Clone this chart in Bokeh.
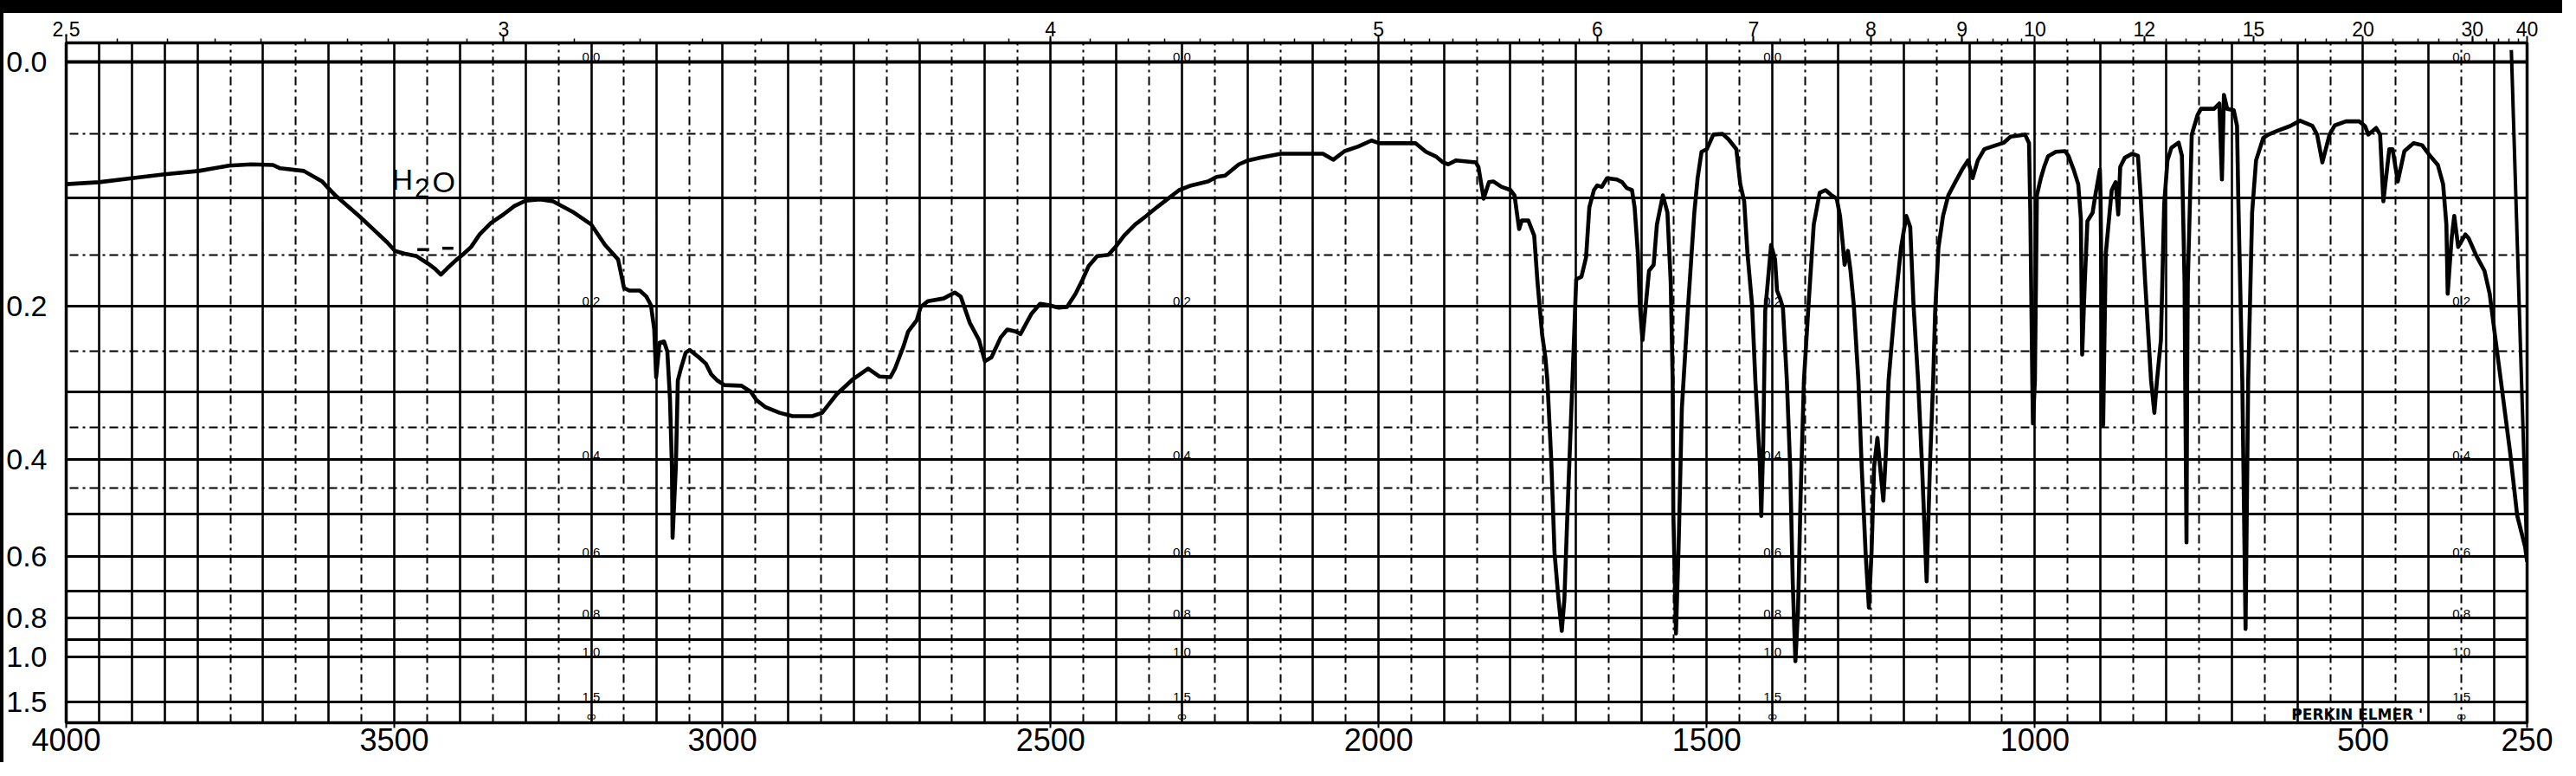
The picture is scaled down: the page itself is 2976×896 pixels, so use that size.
import numpy as np
from bokeh.plotting import figure
from bokeh.models import (Range1d, LinearAxis, FixedTicker, Grid, CustomJSTickFormatter,
                          ColumnDataSource, NumeralTickFormatter, Div)
from bokeh.layouts import column, row
from bokeh.core.properties import value
from bokeh.embed import file_html
from bokeh.resources import INLINE

# ---------------- data ----------------
# wavenumber (cm-1) and transmittance (fraction, linear chart scale)
wavenumber = [
    4000, 3950, 3900, 3850, 3798, 3752, 3718, 3685, 3674, 3638,
    3610, 3590, 3554, 3528, 3511, 3499, 3485, 3466, 3449, 3438,
    3429, 3419, 3406, 3396, 3383, 3370, 3353, 3334, 3317, 3300,
    3278, 3258, 3228, 3200, 3179, 3159, 3150, 3142, 3126, 3116,
    3109, 3104, 3101, 3096, 3089, 3084, 3080, 3077, 3076, 3071,
    3068, 3063, 3056, 3050, 3036, 3025, 3017, 3008, 2997, 2971,
    2957, 2948, 2935, 2913, 2893, 2863, 2848, 2826, 2802, 2778,
    2761, 2744, 2737, 2724, 2717, 2704, 2698, 2687, 2663, 2646,
    2637, 2623, 2609, 2600, 2590, 2576, 2566, 2553, 2546, 2529,
    2516, 2503, 2488, 2475, 2462, 2451, 2442, 2429, 2412, 2401,
    2388, 2371, 2354, 2338, 2321, 2304, 2286, 2260, 2247, 2234,
    2213, 2199, 2180, 2149, 2085, 2069, 2052, 2031, 2011, 1999,
    1944, 1928, 1913, 1902, 1894, 1882, 1852, 1848, 1840, 1832,
    1825, 1813, 1799, 1793, 1786, 1782, 1772, 1763, 1758, 1751,
    1746, 1743, 1737, 1732, 1726, 1721, 1717, 1713, 1708, 1699,
    1691, 1684, 1679, 1672, 1667, 1660, 1652, 1637, 1629, 1622,
    1614, 1610, 1605, 1602, 1598, 1593, 1588, 1581, 1576, 1567,
    1560, 1555, 1552, 1551, 1547, 1543, 1538, 1529, 1519, 1514,
    1508, 1500, 1490, 1476, 1467, 1455, 1449, 1443, 1438, 1431,
    1426, 1419, 1417, 1414, 1411, 1402, 1396, 1393, 1388, 1384,
    1378, 1373, 1369, 1365, 1361, 1357, 1352, 1345, 1337, 1328,
    1319, 1311, 1302, 1297, 1293, 1290, 1285, 1281, 1276, 1269,
    1264, 1258, 1253, 1249, 1245, 1240, 1236, 1231, 1227, 1223,
    1214, 1204, 1196, 1190, 1185, 1178, 1172, 1165, 1160, 1155,
    1152, 1147, 1140, 1132, 1123, 1111, 1102, 1095, 1087, 1077,
    1065, 1047, 1037, 1015, 1009, 1007, 1004, 1003, 1000, 997,
    991, 986, 980, 968, 954, 949, 941, 934, 930, 928,
    924, 920, 912, 908, 901, 900, 897, 896, 895, 892,
    883, 877, 873, 870, 863, 852, 843, 839, 832, 823,
    818, 814, 808, 803, 798, 792, 781, 776, 772, 771,
    769, 768, 767, 761, 752, 747, 727, 719, 715, 712,
    707, 697, 692, 690, 684, 679, 675, 669, 663, 652,
    644, 630, 611, 596, 577, 570, 562, 551, 543, 526,
    506, 497, 492, 480, 474, 469, 460, 455, 447, 437,
    423, 410, 398, 386, 378, 373, 371, 365, 361, 355,
    344, 339, 327, 315, 307, 298, 290, 276, 265, 253,
    250,
]
transmittance = [
    .815, .818, .824, .830, .835, .843, .845, .844, .839, .835,
    .819, .798, .767, .743, .727, .714, .710, .706, .695, .687,
    .678, .688, .700, .708, .720, .739, .756, .769, .782, .790,
    .792, .789, .773, .754, .723, .701, .658, .654, .654, .645,
    .632, .596, .523, .575, .577, .562, .491, .387, .280, .387,
    .518, .537, .560, .564, .553, .543, .527, .518, .511, .510,
    .501, .488, .478, .469, .464, .464, .469, .497, .519, .536,
    .524, .523, .536, .570, .592, .609, .629, .638, .642, .651,
    .645, .605, .579, .547, .553, .583, .595, .592, .588, .619,
    .634, .632, .628, .629, .649, .671, .691, .706, .708, .720,
    .737, .754, .767, .780, .793, .806, .813, .819, .826, .828,
    .845, .851, .855, .861, .861, .852, .865, .872, .881, .877,
    .877, .864, .857, .848, .845, .851, .848, .841, .793, .818,
    .819, .811, .806, .798, .747, .760, .760, .737, .667, .588,
    .553, .519, .397, .257, .187, .139, .187, .300, .431, .671,
    .675, .704, .780, .806, .813, .811, .824, .822, .818, .809,
    .806, .780, .710, .632, .579, .632, .684, .693, .754, .798,
    .772, .667, .518, .317, .135, .265, .476, .623, .772, .824,
    .864, .868, .890, .891, .883, .868, .815, .789, .710, .632,
    .518, .388, .313, .422, .623, .723, .701, .654, .641, .628,
    .518, .388, .212, .093, .169, .345, .518, .632, .754, .802,
    .806, .799, .793, .767, .727, .693, .714, .684, .632, .518,
    .388, .257, .174, .257, .388, .431, .388, .336, .410, .518,
    .623, .719, .767, .750, .632, .518, .388, .214, .388, .519,
    .623, .719, .767, .798, .815, .837, .851, .824, .851, .868,
    .872, .878, .887, .890, .877, .772, .518, .453, .518, .798,
    .824, .841, .857, .864, .865, .858, .837, .815, .763, .557,
    .667, .759, .772, .798, .837, .798, .518, .450, .518, .710,
    .806, .818, .769, .841, .855, .861, .858, .798, .667, .518,
    .469, .518, .579, .785, .851, .870, .878, .858, .667, .518,
    .273, .518, .667, .890, .920, .929, .929, .937, .822, .950,
    .929, .927, .903, .789, .518, .142, .518, .772, .851, .885,
    .890, .896, .903, .911, .903, .890, .848, .890, .904, .910,
    .910, .903, .890, .900, .890, .789, .868, .868, .819, .865,
    .877, .874, .858, .844, .815, .754, .649, .733, .767, .720,
    .739, .733, .706, .684, .649, .579, .518, .410, .313, .266,
    .244,
]
# pen return stroke at the right end of the chart
return_wavenumber = [250, 274]
return_transmittance = [0.244, 1.018]

bottom_ticks = [4000, 3500, 3000, 2500, 2000, 1500, 1000, 500, 250]
micron_labels = [2.5, 3, 4, 5, 6, 7, 8, 9, 10, 12, 15, 20, 30, 40]
absorbance_labels = [0.0, 0.2, 0.4, 0.6, 0.8, 1.0, 1.5]
absorbance_solid = [0.1, 0.2, 0.3, 0.4, 0.5, 0.6, 0.7, 0.8, 0.9, 1.0, 1.5]
absorbance_dashed = [0.05, 0.15, 0.25, 0.35, 0.45]
scale_columns = [3200, 2300, 1400, 350]

h2o_parts = ["H", "2", "O"]
h2o_x = [3504, 3469, 3442]
h2o_y = [0.822, 0.809, 0.819]
h2o_size = ["34px", "31px", "34px"]
h2o_mark_x = [[3465, 3447], [3427, 3410]]
h2o_mark_y = [[0.716, 0.716], [0.718, 0.718]]

brand_text = "PERKIN ELMER '"
brand_x = 609
brand_y = 0.0131

# ---------------- figure ----------------
BAND, STRIP = 15, 4
W, H = 2960 - STRIP, 880 - BAND
p = figure(width=W, height=H, output_backend="svg", toolbar_location=None,
           x_range=Range1d(4000, 250), y_range=Range1d(0, 1.0288),
           min_border_left=70, min_border_right=41, min_border_top=34, min_border_bottom=46)
p.background_fill_color = "white"
p.border_fill_color = "white"
p.outline_line_color = "black"
p.outline_line_width = 3.5
p.grid.visible = False

FONT = "Liberation Sans"

# bottom axis (wavenumber)
bx = p.below[0]
bx.ticker = FixedTicker(ticks=bottom_ticks)
bx.formatter = NumeralTickFormatter(format="0")
bx.axis_line_color = None
bx.major_tick_out = 6
bx.major_tick_in = 0
bx.minor_tick_out = 0
bx.minor_tick_in = 0
bx.major_tick_line_width = 2
bx.major_label_standoff = 0
bx.major_label_text_font = FONT
bx.major_label_text_font_size = "36px"
bx.major_label_text_color = "black"

# left axis (absorbance labels on a linear transmittance scale)
ly = p.left[0]
ly.ticker = FixedTicker(ticks=[10 ** (-a) for a in absorbance_labels])
ly.formatter = CustomJSTickFormatter(code="return Math.abs(Math.log10(tick)).toFixed(1);")
ly.axis_line_color = None
ly.major_tick_out = 0
ly.major_tick_in = 0
ly.minor_tick_out = 0
ly.minor_tick_in = 0
ly.major_label_standoff = 22
ly.major_label_text_font = FONT
ly.major_label_text_font_size = "34px"
ly.major_label_text_color = "black"

# top axis (wavelength in microns)
minor_microns = ([round(2.5 + 0.05 * i, 2) for i in range(1, 10)]
                 + [round(3 + 0.1 * i, 1) for i in range(1, 30)]
                 + [round(6 + 0.2 * i, 1) for i in range(1, 20)]
                 + [10 + 0.5 * i for i in range(1, 10)]
                 + [15 + i for i in range(1, 5)]
                 + [20 + 2 * i for i in range(1, 10)])
top = LinearAxis(
    ticker=FixedTicker(ticks=[10000.0 / m for m in micron_labels],
                       minor_ticks=[10000.0 / m for m in minor_microns]),
    formatter=CustomJSTickFormatter(code="""
        const r = Math.round(10000 / tick * 10) / 10;
        return Number.isInteger(r) ? r.toFixed(0) : r.toFixed(1);"""),
    axis_line_color=None, major_tick_out=8, major_tick_in=0,
    minor_tick_out=5, minor_tick_in=0, major_tick_line_width=2, minor_tick_line_width=1.5,
    major_label_standoff=0, major_label_text_font=FONT,
    major_label_text_font_size="23px", major_label_text_color="black")
p.add_layout(top, "above")

# chart-paper grid
v_solid = list(range(300, 4001, 100)) + [3950, 3850]
v_dashed = list(range(350, 3800, 100))
p.add_layout(Grid(dimension=0, ticker=FixedTicker(ticks=v_solid),
                  grid_line_color="black", grid_line_width=2.6))
p.add_layout(Grid(dimension=0, ticker=FixedTicker(ticks=v_dashed),
                  grid_line_color="black", grid_line_width=2, grid_line_dash="10 5 3 5"))
p.add_layout(Grid(dimension=1, ticker=FixedTicker(ticks=[10 ** (-a) for a in absorbance_solid]),
                  grid_line_color="black", grid_line_width=3.2))
p.add_layout(Grid(dimension=1, ticker=FixedTicker(ticks=[1.0]),
                  grid_line_color="black", grid_line_width=4))
p.add_layout(Grid(dimension=1, ticker=FixedTicker(ticks=[10 ** (-a) for a in absorbance_dashed]),
                  grid_line_color="black", grid_line_width=2, grid_line_dash="10 5 3 5"))

# in-chart absorbance scale columns
cx, cy, ct = [], [], []
for c in scale_columns:
    for a in absorbance_labels:
        cx.append(c); cy.append(10 ** (-a)); ct.append(f"{a:.1f}")
    cx.append(c); cy.append(0.0); ct.append("∞")
p.text(x=cx, y=cy, text=ct, text_align="center", text_baseline="bottom",
       text_font=value(FONT), text_font_size="15px", text_color="black")

# spectrum
src = ColumnDataSource(dict(wn=wavenumber, t=transmittance))
p.line("wn", "t", source=src, line_color="black", line_width=4.6, line_join="round")
p.line(return_wavenumber, return_transmittance, line_color="black", line_width=4)

# H2O annotation
p.text(x=h2o_x, y=h2o_y, text=h2o_parts, text_align="left", text_baseline="alphabetic",
       text_font=value(FONT), text_font_size=h2o_size, text_color="black")
p.multi_line(xs=h2o_mark_x, ys=h2o_mark_y, line_color="black", line_width=3.5)

# brand
p.text(x=[brand_x], y=[brand_y], text=[brand_text], text_align="left", text_baseline="middle",
       text_font=value("DejaVu Sans"), text_font_style="bold", text_font_size="17px",
       text_color="black")

# black scan borders (top band, left strip)
band = Div(text="", width=2960, height=BAND, margin=0,
           styles={"background-color": "black"})
strip = Div(text="", width=STRIP, height=H, margin=0,
            styles={"background-color": "black"})
p.margin = 0
layout = column(band, row(strip, p, spacing=0), spacing=0)

open("out.html", "w").write(file_html(layout, INLINE))
